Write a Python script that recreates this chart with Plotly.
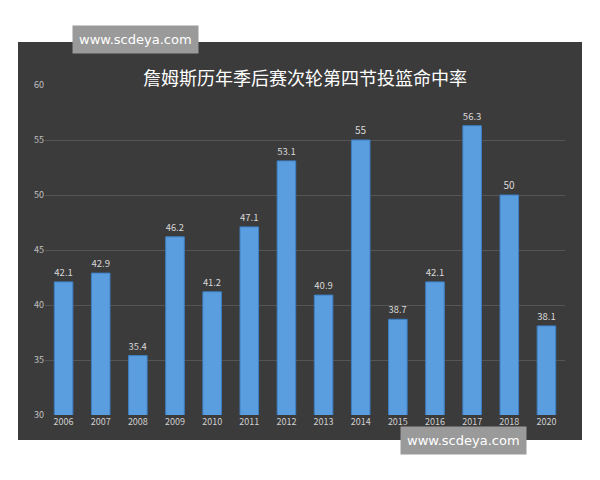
import plotly.graph_objects as go

seasons = ["2006", "2007", "2008", "2009", "2010", "2011", "2012",
           "2013", "2014", "2015", "2016", "2017", "2018", "2020"]
fg_pct = [42.1, 42.9, 35.4, 46.2, 41.2, 47.1, 53.1,
          40.9, 55, 38.7, 42.1, 56.3, 50, 38.1]

# the page puts an 8px margin around the figure, so aim 8px up and left
OFF = 8
W, H = 600, 480
l, r, t, b = 45 - OFF, 35 + OFF, 85 - OFF, 65 + OFF
pw, ph = W - l - r, H - t - b

def px(x):
    return (x - OFF - l) / pw

def py(y):
    return (H - b - (y - OFF)) / ph

fig = go.Figure()
fig.add_trace(go.Bar(
    x=seasons, y=fg_pct, width=0.5,
    marker=dict(color="#5b9ee0", line=dict(color="#3d7fc4", width=1)),
    text=[str(v) for v in fg_pct], textposition="outside",
    textfont=dict(color="#d8d8d8", size=10),
    cliponaxis=False,
))

fig.update_layout(
    width=W, height=H,
    margin=dict(l=l, r=r, t=t, b=b),
    paper_bgcolor="white", plot_bgcolor="rgba(0,0,0,0)",
    font=dict(family="Noto Sans CJK SC"),
    showlegend=False,
    shapes=[dict(type="rect", xref="paper", yref="paper", layer="below",
                 x0=px(18), x1=px(582), y0=py(440), y1=py(42),
                 fillcolor="#3b3b3b", line=dict(width=0))],
    annotations=[
        dict(text="詹姆斯历年季后赛次轮第四节投篮命中率", xref="paper", yref="paper",
             x=0.5, y=py(62), showarrow=False,
             font=dict(color="white", size=18)),
        dict(text="www.scdeya.com", xref="paper", yref="paper",
             x=px(72), y=py(25), showarrow=False, bgcolor="#9a9a9a",
             borderpad=6, font=dict(color="white", size=13, family="DejaVu Sans")),
        dict(text="www.scdeya.com", xref="paper", yref="paper",
             x=px(527), y=py(455), showarrow=False, bgcolor="#9a9a9a",
             borderpad=6, font=dict(color="white", size=13, family="DejaVu Sans")),
    ],
    xaxis=dict(type="category", tickfont=dict(color="#d0d0d0", size=9),
               showgrid=False, showline=False, ticks=""),
    yaxis=dict(range=[30, 60], dtick=5, tickfont=dict(color="#c0c0c0", size=9),
               gridcolor="#555555", zeroline=False, showline=False),
)

fig.write_html("out.html")
